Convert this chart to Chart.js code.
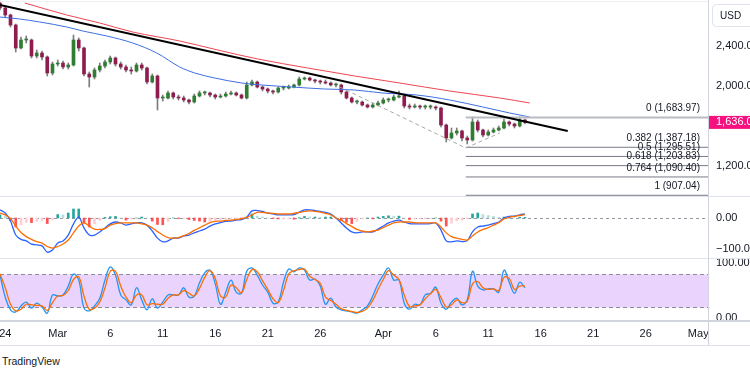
<!DOCTYPE html>
<html>
<head>
<meta charset="utf-8">
<script src="https://cdn.jsdelivr.net/npm/chart.js@4.4.0/dist/chart.umd.min.js"></script>
<style>
  html, body { margin: 0; padding: 0; background: #fff; overflow: hidden; width: 750px; height: 375px; }
  .pane { position: absolute; left: 0; width: 790px; }
  #priceBox { top: 0; height: 197px; }
  #macdBox { top: 197px; height: 62px; }
  #rsiBox { top: 259px; height: 87px; }
  #brand { position: absolute; left: 2px; top: 355px; font: 10.5px 'Liberation Sans', sans-serif; color: #131722; }
</style>
</head>
<body>
<div class="pane" id="priceBox"><canvas id="priceChart"></canvas></div>
<div class="pane" id="macdBox"><canvas id="macdChart"></canvas></div>
<div class="pane" id="rsiBox"><canvas id="rsiChart"></canvas></div>
<div id="brand">TradingView</div>
<script>
// day 0 = 1 Mar, one candle every half day
const tickDays = [-5, 0, 5, 10, 15, 20, 25, 31, 36, 41, 46, 51, 56, 61];
const tickLabels = ['24', 'Mar', '6', '11', '16', '21', '26', 'Apr', '6', '11', '16', '21', '26', 'May'];

const opens = [2830, 2780, 2710, 2610, 2380, 2460, 2460, 2300, 2330, 2290, 2130, 2220, 2230, 2190, 2210, 2460, 2380, 2120, 2090, 2160,
  2200, 2240, 2280, 2220, 2190, 2160, 2150, 2210, 2180, 2040, 2100, 1880, 1880, 1930, 1890, 1880, 1860, 1840, 1900, 1930,
  1930, 1910, 1890, 1900, 1920, 1930, 1910, 1880, 2010, 2040, 1990, 1970, 1950, 1940, 1980, 1980, 1990, 2010, 2070, 2080,
  2060, 2050, 2040, 2030, 2010, 2010, 1940, 1880, 1840, 1840, 1810, 1790, 1810, 1830, 1860, 1860, 1890, 1900, 1800, 1790,
  1800, 1790, 1790, 1790, 1780, 1610, 1480, 1530, 1550, 1480, 1460, 1640, 1560, 1510, 1540, 1560, 1580, 1640, 1620, 1600, 1660];
const closes = [2780, 2710, 2610, 2380, 2460, 2460, 2300, 2330, 2290, 2130, 2220, 2230, 2190, 2210, 2460, 2380, 2120, 2090, 2160, 2200,
  2240, 2280, 2220, 2190, 2160, 2150, 2210, 2180, 2040, 2100, 1880, 1880, 1930, 1890, 1880, 1860, 1840, 1900, 1930, 1930,
  1910, 1890, 1900, 1920, 1930, 1910, 1880, 2010, 2040, 1990, 1970, 1950, 1940, 1980, 1980, 1990, 2010, 2070, 2080, 2060,
  2050, 2040, 2030, 2010, 2010, 1940, 1880, 1840, 1840, 1810, 1790, 1810, 1830, 1860, 1860, 1890, 1900, 1800, 1790, 1800,
  1790, 1790, 1790, 1780, 1610, 1480, 1530, 1550, 1480, 1460, 1640, 1560, 1510, 1540, 1560, 1580, 1640, 1620, 1600, 1660, 1636];
const highs = [2850, 2800, 2720, 2620, 2490, 2500, 2470, 2360, 2350, 2300, 2240, 2260, 2250, 2230, 2510, 2480, 2390, 2140, 2180, 2230,
  2260, 2300, 2290, 2240, 2210, 2190, 2230, 2230, 2190, 2120, 2110, 1910, 1950, 1940, 1910, 1900, 1870, 1920, 1950, 1950,
  1940, 1920, 1920, 1940, 1950, 1940, 1920, 2040, 2060, 2050, 2000, 1980, 1960, 1990, 2000, 2010, 2020, 2090, 2090, 2090,
  2070, 2060, 2060, 2040, 2030, 2020, 1950, 1890, 1860, 1850, 1820, 1830, 1850, 1880, 1880, 1910, 1950, 1910, 1820, 1820,
  1810, 1810, 1810, 1800, 1790, 1620, 1580, 1580, 1560, 1500, 1690, 1660, 1570, 1560, 1580, 1600, 1670, 1650, 1630, 1690, 1670];
const lows = [2760, 2690, 2590, 2340, 2370, 2430, 2280, 2280, 2260, 2100, 2110, 2200, 2170, 2170, 2200, 2350, 2100, 1990, 2070, 2140,
  2180, 2220, 2200, 2170, 2140, 2120, 2140, 2160, 2020, 2030, 1760, 1850, 1870, 1870, 1860, 1840, 1820, 1830, 1890, 1910,
  1890, 1870, 1880, 1890, 1910, 1900, 1870, 1870, 2000, 1980, 1950, 1930, 1920, 1930, 1960, 1970, 1980, 2000, 2060, 2050,
  2030, 2020, 2020, 2000, 1990, 1920, 1870, 1830, 1820, 1800, 1780, 1780, 1800, 1820, 1840, 1850, 1880, 1780, 1770, 1780,
  1770, 1770, 1770, 1760, 1590, 1440, 1470, 1510, 1450, 1420, 1450, 1540, 1490, 1500, 1530, 1550, 1570, 1600, 1580, 1590, 1620];

const redMaDays = [-3.14, 0.86, 4, 7.14, 11.62, 15.24, 19.05, 23.81, 28.29, 32.57, 37.33, 42.1, 44.95];
const redMaValues = [2830, 2710, 2630, 2540, 2450, 2360, 2270, 2180, 2100, 2030, 1950, 1880, 1830];
const blueMaDays = [-5.52, -3.62, -1.71, 0.86, 2.38, 4.67, 7.14, 9.43, 11.62, 13.05, 14.95, 17.52, 19.43, 22.29, 25.43, 28.29, 30.95, 34.19, 37.33, 40.48, 43.05, 44.95];
const blueMaValues = [2690, 2670, 2640, 2590, 2550, 2500, 2430, 2330, 2190, 2130, 2080, 2030, 2010, 1990, 1970, 1960, 1930, 1910, 1860, 1790, 1730, 1690];

const trendDays = [-5.5, 48.57];
const trendValues = [2810, 1550];
const swingDays = [26.86, 38.86, 42.1];
const swingValues = [1990, 1380, 1530];

const fibStart = 38.86;
const fibLevels = ['0', '0.382', '0.5', '0.618', '0.764', '1'];
const fibPrices = [1683.97, 1387.18, 1295.51, 1203.83, 1090.40, 907.04];

const macdLine = [26, 16, -10, -55, -69, -74, -84, -87, -90, -110, -103, -81, -74, -55, -19, 3, -32, -55, -55, -45,
  -32, -19, -13, -16, -23, -19, -16, -16, -23, -42, -65, -77, -74, -65, -65, -58, -55, -48, -42, -36,
  -26, -19, -15, -11, -10, -7, -5, 3, 23, 24, 21, 16, 13, 10, 10, 10, 11, 19, 26, 26,
  24, 21, 18, 13, 0, -16, -32, -45, -48, -45, -45, -45, -36, -26, -16, -10, -7, -13, -18, -19,
  -19, -19, -18, -16, -39, -74, -77, -74, -76, -73, -45, -29, -26, -23, -18, -13, 0, 5, 6, 10, 13];
const signalLine = [16, 10, -2, -26, -47, -60, -69, -76, -81, -92, -97, -92, -84, -71, -48, -26, -16, -26, -36, -37,
  -34, -23, -18, -16, -16, -16, -16, -19, -23, -32, -44, -55, -63, -65, -63, -57, -50, -40, -32, -23,
  -15, -11, -10, -8, -7, -5, -2, 2, 10, 18, 18, 16, 15, 13, 13, 13, 15, 18, 21, 23,
  21, 19, 15, 10, 0, -7, -18, -27, -37, -42, -45, -42, -39, -31, -23, -16, -13, -13, -13, -15,
  -16, -16, -16, -16, -29, -48, -60, -65, -69, -71, -58, -45, -37, -31, -23, -15, -3, 2, 5, 8, 11];
const macdHist = [10, 6, -8, -29, -22, -14, -15, -11, -9, -18, -6, 11, 10, 16, 29, 29, -16, -29, -19, -8,
  2, 4, 5, 0, -7, -3, 0, 3, 0, -10, -21, -22, -11, 0, -2, -1, -5, -8, -10, -13,
  -11, -8, -5, -3, -3, -2, -3, 1, 13, 6, 3, 0, -2, -3, -3, -3, -4, 1, 5, 3,
  3, 2, 3, 3, 0, -9, -14, -18, -11, -3, 0, -3, 3, 5, 7, 6, 6, 0, -5, -4,
  -3, -3, -2, 0, -10, -26, -17, -9, -7, -2, 13, 16, 11, 8, 5, 2, 3, 3, 1, 2, 2];

const stochK = [78, 38, 15, 11, 22, 29, 18, 27, 20, 9, 42, 40, 42, 58, 80, 69, 18, 13, 22, 36,
  69, 93, 78, 42, 33, 24, 55, 33, 15, 35, 18, 29, 42, 42, 42, 55, 38, 40, 64, 82,
  87, 62, 25, 47, 69, 47, 45, 85, 91, 78, 60, 47, 27, 29, 65, 89, 84, 91, 87, 69,
  71, 58, 25, 36, 20, 15, 13, 11, 9, 15, 22, 40, 62, 78, 91, 69, 69, 27, 16, 25,
  24, 42, 45, 56, 27, 16, 29, 36, 24, 33, 85, 58, 51, 53, 53, 47, 87, 65, 45, 65, 55];
const stochD = [80, 55, 25, 13, 16, 25, 24, 23, 22, 14, 28, 40, 41, 50, 70, 75, 40, 16, 18, 29,
  55, 85, 85, 58, 38, 28, 42, 42, 24, 26, 25, 25, 36, 42, 42, 50, 45, 40, 54, 74,
  86, 72, 40, 38, 60, 55, 46, 70, 88, 84, 68, 52, 35, 28, 50, 80, 86, 88, 89, 76,
  70, 63, 38, 32, 25, 17, 14, 12, 10, 12, 18, 32, 52, 70, 86, 78, 70, 42, 21, 22,
  24, 35, 44, 52, 37, 20, 24, 33, 28, 30, 62, 66, 55, 52, 53, 50, 74, 72, 52, 58, 58];

const candleDays = closes.map((_, i) => -5.5 + i * 0.5);

const X_MIN = -5.5, X_MAX = 61.93, AXIS_W = 82;
const UP = '#2f7d32', DOWN = '#8e1c4f';
const AXIS_FONT = { family: 'Liberation Sans', size: 11 };
const TEXT = '#131722';

function pts(xs, ys) {
    return xs.map((x, i) => ({ x: x, y: ys[i] }));
}

function fmt(v, digits) {
    const s = Math.abs(v).toLocaleString('en-US', { minimumFractionDigits: digits, maximumFractionDigits: digits });
    return (v < 0 ? '\u2212' : '') + s;
}

function yAxis(min, max, ticks) {
    return {
        position: 'right', min: min, max: max,
        afterFit: s => { s.width = AXIS_W; s.paddingTop = 0; s.paddingBottom = 0; },
        afterBuildTicks: s => { s.ticks = ticks.map(v => ({ value: v })); },
        grid: { display: false, drawTicks: false },
        border: { display: false },
        ticks: { color: TEXT, font: AXIS_FONT, padding: 8, callback: v => fmt(v, 2), autoSkip: false }
    };
}

function hiddenX() {
    return { type: 'linear', min: X_MIN, max: X_MAX, offset: false, display: false };
}

function line(ctx, x1, y1, x2, y2, color, width, dash) {
    ctx.save();
    ctx.strokeStyle = color;
    ctx.lineWidth = width;
    ctx.setLineDash(dash || []);
    ctx.beginPath();
    ctx.moveTo(x1, y1);
    ctx.lineTo(x2, y2);
    ctx.stroke();
    ctx.restore();
}

const common = {
    responsive: true,
    maintainAspectRatio: false,
    animation: false,
    layout: { padding: 0, autoPadding: false },
    plugins: { legend: { display: false }, tooltip: { enabled: false } }
};

// ---- price pane ----
const priceDecor = {
    id: 'priceDecor',
    afterDatasetsDraw(chart) {
        const ctx = chart.ctx, a = chart.chartArea, y = chart.scales.y;
        // fib labels
        ctx.save();
        ctx.font = '10px "Liberation Sans"';
        ctx.fillStyle = TEXT;
        ctx.textAlign = 'right';
        ctx.textBaseline = 'middle';
        fibPrices.forEach((p, i) => {
            ctx.fillText(fibLevels[i] + ' (' + fmt(p, 2) + ')', a.right - 8, y.getPixelForValue(p) - 9);
        });
        ctx.restore();
    },
    afterDraw(chart) {
        const ctx = chart.ctx, a = chart.chartArea, y = chart.scales.y;
        const W = chart.width;
        line(ctx, 0, 1.5, a.right, 1.5, '#eef0f3', 1);
        line(ctx, 0, a.bottom - 0.5, W, a.bottom - 0.5, '#e0e3eb', 1);
        line(ctx, a.right + 0.5, 0, a.right + 0.5, a.bottom, '#d1d4dc', 1);
        // USD box
        ctx.save();
        ctx.strokeStyle = '#e0e3eb';
        ctx.fillStyle = '#fff';
        ctx.beginPath();
        ctx.roundRect(a.right + 4.5, 4.5, 44, 22, 4);
        ctx.fill();
        ctx.stroke();
        ctx.fillStyle = TEXT;
        ctx.font = '10px "Liberation Sans"';
        ctx.textBaseline = 'middle';
        ctx.fillText('USD', a.right + 12, 16);
        // last price label
        const last = closes[closes.length - 1];
        const py = y.getPixelForValue(last);
        ctx.fillStyle = '#f5127f';
        ctx.fillRect(a.right + 1, py - 6.5, 80, 13);
        ctx.fillStyle = '#fff';
        ctx.font = '11px "Liberation Sans"';
        ctx.fillText(fmt(last, 2), a.right + 8, py);
        ctx.restore();
    }
};

const priceChart = new Chart(document.getElementById('priceChart'), {
    type: 'bar',
    data: {
        datasets: [
            {
                label: 'wicks',
                data: candleDays.map((d, i) => ({ x: d, y: [lows[i], highs[i]] })),
                backgroundColor: '#7d7d7d',
                barThickness: 1, grouped: false, order: 4
            },
            {
                label: 'bodies',
                data: candleDays.map((d, i) => ({ x: d, y: [opens[i], closes[i]] })),
                backgroundColor: closes.map((c, i) => c >= opens[i] ? UP : DOWN),
                barThickness: 3, minBarLength: 1, grouped: false, order: 3
            },
            {
                type: 'line', label: 'MA 200',
                data: pts(redMaDays, redMaValues),
                borderColor: '#f0454f', borderWidth: 1, pointRadius: 0,
                cubicInterpolationMode: 'monotone', order: 2
            },
            {
                type: 'line', label: 'MA 100',
                data: pts(blueMaDays, blueMaValues),
                borderColor: '#3d6fe0', borderWidth: 1, pointRadius: 0,
                cubicInterpolationMode: 'monotone', order: 2
            },
            {
                type: 'line', label: 'swing',
                data: pts(swingDays, swingValues),
                borderColor: '#a8a8a8', borderWidth: 1, borderDash: [4, 3], pointRadius: 0, order: 1
            },
            ...fibPrices.map((p, i) => ({
                type: 'line', label: 'fib ' + fibLevels[i],
                data: [{ x: fibStart, y: p }, { x: X_MAX, y: p }],
                borderColor: i === 0 ? '#b8bbc2' : '#787b86',
                borderWidth: i === 0 ? 2 : 1, pointRadius: 0, order: 1
            })),
            {
                type: 'line', label: 'trend',
                data: pts(trendDays, trendValues),
                borderColor: '#000', borderWidth: 2, pointRadius: 0, order: 0
            }
        ]
    },
    options: {
        ...common,
        scales: {
            x: hiddenX(),
            y: yAxis(890, 2860, [1200, 2000, 2400])
        }
    },
    plugins: [priceDecor]
});

// ---- MACD pane ----
const macdDecor = {
    id: 'macdDecor',
    beforeDatasetsDraw(chart) {
        const a = chart.chartArea, y0 = Math.round(chart.scales.y.getPixelForValue(0)) + 0.5;
        line(chart.ctx, a.left, y0, a.right, y0, '#9598a1', 1, [3, 3]);
    },
    afterDraw(chart) {
        const ctx = chart.ctx, a = chart.chartArea;
        line(ctx, 0, a.bottom - 0.5, chart.width, a.bottom - 0.5, '#e0e3eb', 1);
        line(ctx, a.right + 0.5, 0, a.right + 0.5, a.bottom, '#d1d4dc', 1);
    }
};

const macdChart = new Chart(document.getElementById('macdChart'), {
    type: 'bar',
    data: {
        datasets: [
            {
                label: 'Histogram',
                data: pts(candleDays, macdHist),
                backgroundColor: macdHist.map((h, i) => {
                    const prev = i ? macdHist[i - 1] : h;
                    if (h >= 0) return h >= prev ? '#26a69a' : '#b2dfdb';
                    return h < prev ? '#ff5252' : '#ffcdd2';
                }),
                barThickness: 2, grouped: false, order: 2
            },
            {
                type: 'line', label: 'MACD',
                data: pts(candleDays, macdLine),
                borderColor: '#2962ff', borderWidth: 1.3, pointRadius: 0, tension: 0.35, order: 1
            },
            {
                type: 'line', label: 'Signal',
                data: pts(candleDays, signalLine),
                borderColor: '#ff6d00', borderWidth: 1.3, pointRadius: 0, tension: 0.35, order: 0
            }
        ]
    },
    options: {
        ...common,
        scales: {
            x: hiddenX(),
            y: yAxis(-132.3, 67.7, [0, -100])
        }
    },
    plugins: [macdDecor]
});

// ---- Stoch RSI pane ----
const rsiDecor = {
    id: 'rsiDecor',
    beforeDatasetsDraw(chart) {
        const ctx = chart.ctx, a = chart.chartArea, y = chart.scales.y;
        const top = Math.round(y.getPixelForValue(80)) + 0.5;
        const bot = Math.round(y.getPixelForValue(20)) + 0.5;
        ctx.save();
        ctx.fillStyle = '#ead3fd';
        ctx.fillRect(a.left, top, a.right - a.left, bot - top);
        ctx.restore();
        line(ctx, a.left, top, a.right, top, '#8c8c99', 1, [4, 3]);
        line(ctx, a.left, bot, a.right, bot, '#8c8c99', 1, [4, 3]);
    },
    afterDraw(chart) {
        const ctx = chart.ctx, a = chart.chartArea;
        line(ctx, 0, a.bottom + 1, chart.width, a.bottom + 1, '#d1d4dc', 2);
        line(ctx, a.right + 0.5, 0, a.right + 0.5, chart.height, '#d1d4dc', 1);
        line(ctx, 0, chart.height - 0.5, chart.width, chart.height - 0.5, '#e0e3eb', 1);
    }
};

const rsiChart = new Chart(document.getElementById('rsiChart'), {
    type: 'line',
    data: {
        datasets: [
            {
                label: 'K',
                data: pts(candleDays, stochK),
                borderColor: '#2196f3', borderWidth: 1.3, pointRadius: 0, tension: 0.4, order: 1
            },
            {
                label: 'D',
                data: pts(candleDays, stochD),
                borderColor: '#ff6d00', borderWidth: 1.3, pointRadius: 0, tension: 0.4, order: 0
            }
        ]
    },
    options: {
        ...common,
        scales: {
            x: {
                type: 'linear', min: X_MIN, max: X_MAX, offset: false,
                afterFit: s => { s.height = 26; s.paddingLeft = 0; s.paddingRight = 0; },
                afterBuildTicks: s => { s.ticks = tickDays.map(v => ({ value: v })); },
                grid: { display: false, drawTicks: false },
                border: { display: false },
                ticks: {
                    color: TEXT, font: AXIS_FONT, padding: 7, maxRotation: 0, autoSkip: false,
                    callback: v => tickLabels[tickDays.indexOf(v)]
                }
            },
            y: yAxis(-3.6, 107.3, [0, 100])
        }
    },
    plugins: [rsiDecor]
});
</script>
</body>
</html>
